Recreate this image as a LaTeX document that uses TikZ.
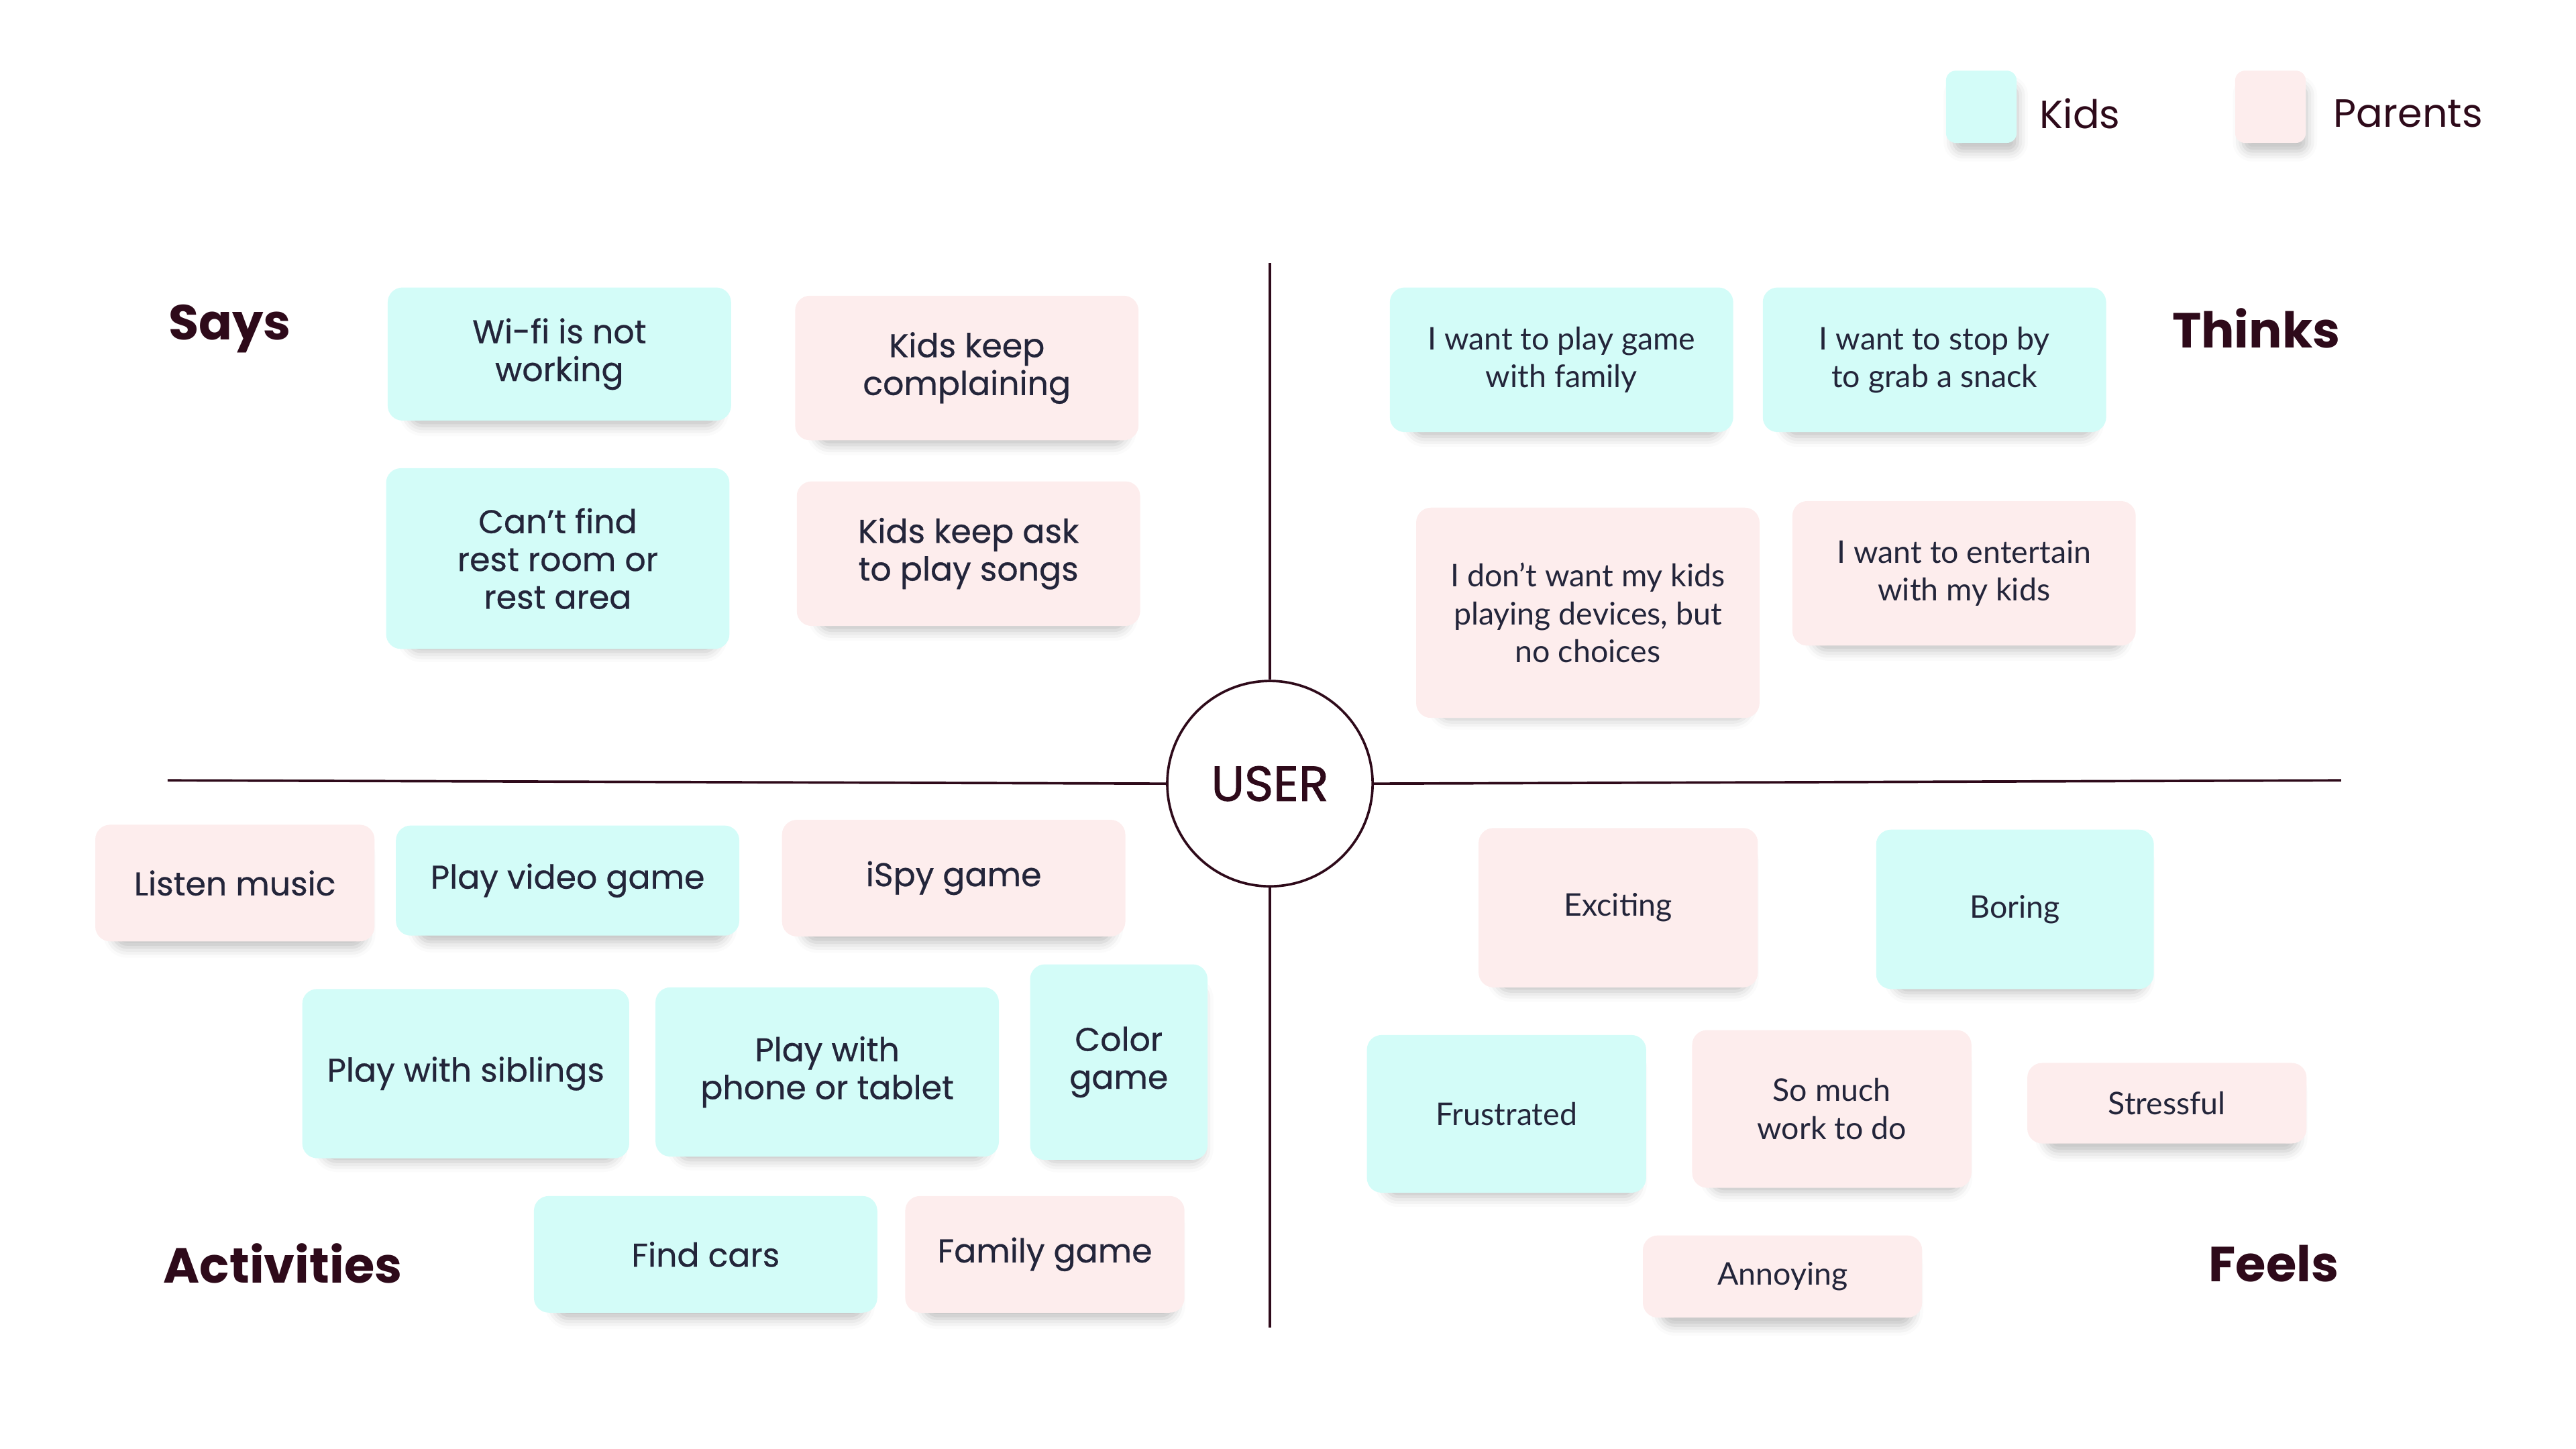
\documentclass[tikz,border=0pt]{standalone}
\usepackage{fontspec}
\usetikzlibrary{shadows.blur}
\newfontfamily\popf{Poppins}
\newfontfamily\popm{Poppins}[FakeBold=0.5]
\newfontfamily\popu{Poppins}[FakeBold=1.2]
\newfontfamily\latof{Lato}
\definecolor{kidc}{HTML}{D3FCF8}
\definecolor{parc}{HTML}{FDEDED}
\definecolor{txt}{HTML}{23253A}
\definecolor{ink}{HTML}{2E0A1A}
\tikzset{
  note/.style={rounded corners=9pt, align=center, text=txt, inner sep=0pt,
    blur shadow={shadow xshift=3pt, shadow yshift=-8pt, shadow blur radius=7pt, shadow opacity=25, shadow scale=0.9}},
  kid/.style={note, fill=kidc},
  par/.style={note, fill=parc},
  sayf/.style={font=\popm\fontsize{20}{23}\selectfont},
  thf/.style={font=\latof\fontsize{19}{23}\selectfont},
  head/.style={font=\popf\bfseries\fontsize{30}{34}\selectfont, text=ink},
  legt/.style={font=\popf\fontsize{24}{28}\selectfont, text=ink, anchor=west},
  axis/.style={draw=ink, line width=1.5pt},
}
\begin{document}
\begin{tikzpicture}[x=1pt,y=-1pt]
\useasboundingbox (0,0) rectangle (1568,882);
% legend
\node[kid, minimum width=43pt, minimum height=44pt, rounded corners=6pt] (lk) at (1206,65) {};
\node[legt] (lkt) at (1238,69) {Kids};
\node[par, minimum width=43pt, minimum height=44pt, rounded corners=6pt] (lp) at (1382,65) {};
\node[legt] (lpt) at (1417,69) {Parents};
% axes
\node[circle, draw=ink, line width=1.5pt, minimum size=125pt, inner sep=0pt,
      font=\popu\fontsize{30}{33}\selectfont, text=ink] (user) at (773,477) {USER};
\coordinate (top) at (773,160);
\coordinate (bot) at (773,808);
\coordinate (lft) at (102,475);
\coordinate (rgt) at (1425,475);
\draw[axis] (user.north) -- (top);
\draw[axis] (user.south) -- (bot);
\draw[axis] (user.west) -- (lft);
\draw[axis] (user.east) -- (rgt);
% headings
\node[head, anchor=west] (says) at (99,200) {Says};
\node[head, anchor=east] (thinks) at (1428,200) {Thinks};
\node[head, anchor=west] (acts) at (96,769) {Activities};
\node[head, anchor=east] (feels) at (1427,769) {Feels};
% Says
\node[kid, sayf, minimum width=209pt, minimum height=81pt] (s1) at (340.5,215.5) {Wi-fi is not\\working};
\node[par, sayf, minimum width=209pt, minimum height=88pt] (s2) at (588.5,224) {Kids keep\\complaining};
\node[kid, sayf, minimum width=209pt, minimum height=110pt] (s3) at (339.5,340) {Can’t find\\rest room or\\rest area};
\node[par, sayf, minimum width=209pt, minimum height=88pt] (s4) at (589.5,337) {Kids keep ask\\to play songs};
% Thinks
\node[kid, thf, minimum width=209pt, minimum height=88pt] (t1) at (950.5,219) {I want to play game\\with family};
\node[kid, thf, minimum width=209pt, minimum height=88pt] (t2) at (1177.5,219) {I want to stop by\\to grab a snack};
\node[par, thf, minimum width=209pt, minimum height=128pt] (t3) at (966.5,373) {I don’t want my kids\\playing devices, but\\no choices};
\node[par, thf, minimum width=209pt, minimum height=88pt] (t4) at (1195.5,349) {I want to entertain\\with my kids};
% Activities
\node[par, sayf, minimum width=170pt, minimum height=71pt] (a1) at (143,537.5) {Listen music};
\node[kid, sayf, minimum width=209pt, minimum height=67pt] (a2) at (345.5,536) {Play video game};
\node[par, sayf, minimum width=209pt, minimum height=71pt] (a3) at (580.5,534.5) {iSpy game};
\node[kid, sayf, minimum width=199pt, minimum height=103pt] (a4) at (283.5,653.5) {Play with siblings};
\node[kid, sayf, minimum width=209pt, minimum height=103pt] (a5) at (503.5,652.5) {Play with\\phone or tablet};
\node[kid, sayf, minimum width=108pt, minimum height=119pt] (a6) at (681,646.5) {Color\\game};
\node[kid, sayf, minimum width=209pt, minimum height=71pt] (a7) at (429.5,763.5) {Find cars};
\node[par, sayf, minimum width=170pt, minimum height=71pt] (a8) at (636,763.5) {Family game};
% Feels
\node[par, thf, minimum width=170pt, minimum height=97pt] (f1) at (985,552.5) {Exciting};
\node[kid, thf, minimum width=169pt, minimum height=97pt] (f2) at (1226.5,553.5) {Boring};
\node[kid, thf, minimum width=170pt, minimum height=96pt] (f3) at (917,678) {Frustrated};
\node[par, thf, minimum width=170pt, minimum height=96pt] (f4) at (1115,675) {So much\\work to do};
\node[par, thf, minimum width=170pt, minimum height=49pt] (f5) at (1319,671.5) {Stressful};
\node[par, thf, minimum width=170pt, minimum height=50pt] (f6) at (1085,777) {Annoying};
\end{tikzpicture}
\end{document}
